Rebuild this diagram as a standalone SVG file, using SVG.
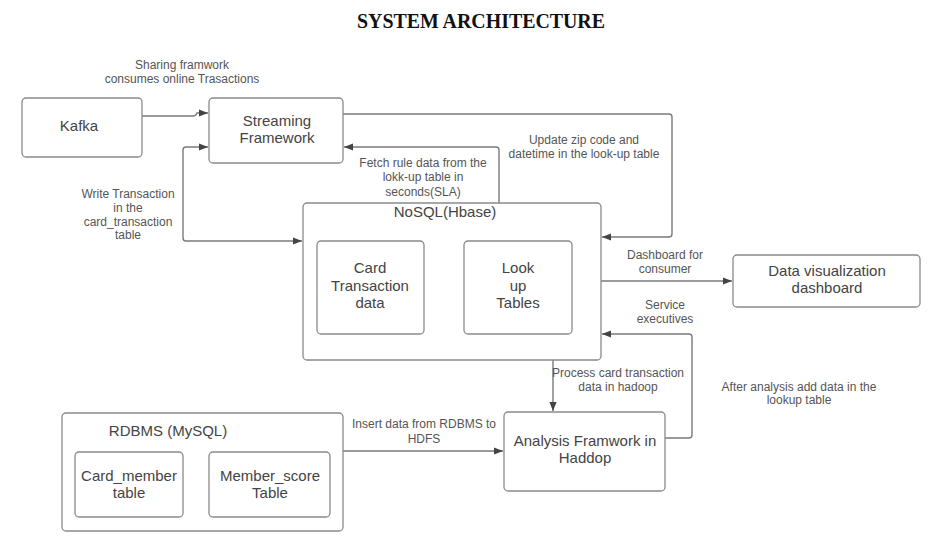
<svg xmlns="http://www.w3.org/2000/svg" width="930" height="553" viewBox="0 0 930 553">
<style>
.box{fill:#fff;stroke:#8a8a8a;stroke-width:1.3}
.n{font-family:"Liberation Sans",Arial,sans-serif;font-size:15px;fill:#444;text-anchor:middle}
.l{font-family:"Liberation Sans",Arial,sans-serif;font-size:12px;fill:#555;text-anchor:middle}
.c{fill:none;stroke:#7a7a7a;stroke-width:1.4}
.t{font-family:"Liberation Serif","Times New Roman",serif;font-size:20px;font-weight:bold;fill:#111;text-anchor:middle}
</style>
<defs>
<marker id="ah" viewBox="0 0 10 10" refX="10" refY="5" markerWidth="9" markerHeight="9" markerUnits="userSpaceOnUse" orient="auto-start-reverse">
<path d="M0,1 L10,5 L0,9 z" fill="#444"/>
</marker>
</defs>
<rect width="930" height="553" fill="#fff"/>
<text class="t" x="481" y="28" textLength="248" lengthAdjust="spacingAndGlyphs">SYSTEM ARCHITECTURE</text>

<g id="connectors">
<path class="c" d="M142,116 H193 Q196,116 197,113 H208" marker-end="url(#ah)"/>
<path class="c" d="M208,147 H186 Q183,147 183,150 V238 Q183,241 186,241 H302" marker-start="url(#ah)" marker-end="url(#ah)"/>
<path class="c" d="M499,203 V150 Q499,147 496,147 H344" marker-end="url(#ah)"/>
<path class="c" d="M343,114 H669 Q672,114 672,117 V234 Q672,237 669,237 H602" marker-end="url(#ah)"/>
<path class="c" d="M601,281 H732" marker-end="url(#ah)"/>
<path class="c" d="M665,438 H689 Q692,438 692,435 V337 Q692,334 689,334 H602" marker-end="url(#ah)"/>
<path class="c" d="M553,360 V411" marker-end="url(#ah)"/>
<path class="c" d="M343,451 H503" marker-end="url(#ah)"/>
<text class="l" x="182" y="69">Sharing framwork</text>
<text class="l" x="182" y="83">consumes online Trasactions</text>
<text class="l" x="128" y="198">Write Transaction</text>
<text class="l" x="128" y="212">in the</text>
<text class="l" x="128" y="226">card_transaction</text>
<text class="l" x="128" y="239">table</text>
<text class="l" x="423" y="167">Fetch rule data from the</text>
<text class="l" x="423" y="181">lokk-up table in</text>
<text class="l" x="423" y="196">seconds(SLA)</text>
<text class="l" x="584" y="144">Update zip code and</text>
<text class="l" x="584" y="158">datetime in the look-up table</text>
<text class="l" x="665" y="259">Dashboard for</text>
<text class="l" x="665" y="273">consumer</text>
<text class="l" x="665" y="309">Service</text>
<text class="l" x="665" y="323">executives</text>
<text class="l" x="618" y="377">Process card transaction</text>
<text class="l" x="618" y="391">data in hadoop</text>
<text class="l" x="799" y="391">After analysis add data in the</text>
<text class="l" x="799" y="404">lookup table</text>
<text class="l" x="424" y="428">Insert data from RDBMS to</text>
<text class="l" x="424" y="443">HDFS</text>
</g>

<g id="kafka">
<rect class="box" x="22" y="98" width="120" height="59" rx="4"/>
<text class="n" x="79" y="131">Kafka</text>
</g>
<g id="streaming">
<rect class="box" x="209" y="98" width="134" height="65" rx="4"/>
<text class="n" x="277" y="126">Streaming</text>
<text class="n" x="277" y="143">Framework</text>
</g>
<g id="nosql">
<rect class="box" x="303" y="203" width="298" height="157" rx="4"/>
<text class="n" x="445" y="217">NoSQL(Hbase)</text>
</g>
<g id="card-transaction">
<rect class="box" x="317" y="241" width="107" height="93" rx="4"/>
<text class="n" x="370" y="273">Card</text>
<text class="n" x="370" y="291">Transaction</text>
<text class="n" x="370" y="308">data</text>
</g>
<g id="lookup">
<rect class="box" x="464" y="241" width="108" height="93" rx="4"/>
<text class="n" x="518" y="273">Look</text>
<text class="n" x="518" y="291">up</text>
<text class="n" x="518" y="308">Tables</text>
</g>
<g id="dashboard">
<rect class="box" x="733" y="255" width="187" height="52" rx="4"/>
<text class="n" x="827" y="276">Data visualization</text>
<text class="n" x="827" y="293">dashboard</text>
</g>
<g id="analysis">
<rect class="box" x="504" y="412" width="161" height="79" rx="4"/>
<text class="n" x="585" y="446">Analysis Framwork in</text>
<text class="n" x="585" y="463">Haddop</text>
</g>
<g id="rdbms">
<rect class="box" x="62" y="413" width="281" height="118" rx="4"/>
<text class="n" x="168" y="436">RDBMS (MySQL)</text>
</g>
<g id="card-member">
<rect class="box" x="75" y="452" width="108" height="65" rx="4"/>
<text class="n" x="129" y="481">Card_member</text>
<text class="n" x="129" y="498">table</text>
</g>
<g id="member-score">
<rect class="box" x="209" y="452" width="121" height="65" rx="4"/>
<text class="n" x="270" y="481">Member_score</text>
<text class="n" x="270" y="498">Table</text>
</g>
</svg>
